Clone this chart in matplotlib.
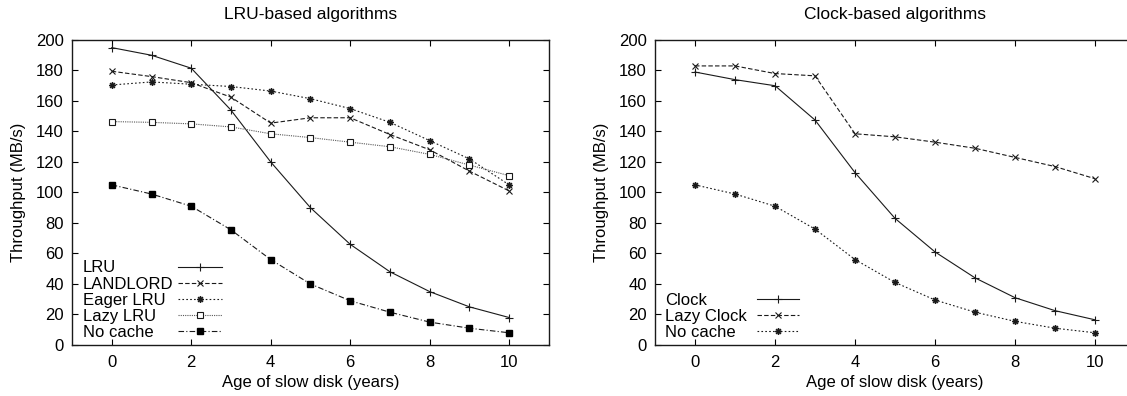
import matplotlib
matplotlib.use("Agg")
import matplotlib.pyplot as plt
from matplotlib.lines import Line2D
from matplotlib.path import Path

# disk age in years
age = [0, 1, 2, 3, 4, 5, 6, 7, 8, 9, 10]

# LRU-based algorithms (MB/s)
lru = [195, 190, 181.5, 154, 120, 90, 66, 48, 35, 25, 18]
landlord = [179.5, 176, 172, 162.5, 145.5, 149, 149, 138, 128, 114, 101]
eager_lru = [170.5, 172.5, 171, 169.5, 166.5, 161.5, 155, 146, 134, 122, 105]
lazy_lru = [146.5, 146, 145, 143, 138.5, 136, 133, 130, 125, 118, 111]
no_cache = [105, 99, 91, 75.5, 56, 40, 29, 21.5, 15, 11, 8]

# Clock-based algorithms (MB/s)
clock = [179, 174, 170, 147.5, 113, 83, 61, 44, 31, 22.5, 16.5]
lazy_clock = [183, 183, 178, 176.5, 138.5, 136.5, 133, 129, 123, 117, 109]
no_cache_clock = [105, 99, 91, 76, 56, 41, 29.5, 21.5, 15.5, 11, 8]

plt.rcParams['font.family'] = ['Liberation Sans', 'DejaVu Sans']
plt.rcParams['font.size'] = 12

# gnuplot style asterisk (+ and x together)
M, L = Path.MOVETO, Path.LINETO
star = Path([(-1, 0), (1, 0), (0, -1), (0, 1),
             (-.7, -.7), (.7, .7), (-.7, .7), (.7, -.7)],
            [M, L, M, L, M, L, M, L])

fig = plt.figure(figsize=(11.27, 3.96), dpi=100)
ax1 = fig.add_axes([0.0639, 0.1288, 0.4232, 0.7702])
ax2 = fig.add_axes([0.5812, 0.1288, 0.4260, 0.7702])

lw = 0.8
s1 = dict(color='0.1', lw=lw, ls='-', marker='+', ms=6, mew=0.8)
s2 = dict(color='0.1', lw=lw, ls=(0, (4, 2)), marker='x', ms=5, mew=0.8)
s3 = dict(color='0.1', lw=lw, ls=(0, (1.5, 2)), marker=star, ms=5, mew=1.1)
s4 = dict(color='0.35', lw=lw, ls=(0, (1, 1)), marker='s', ms=4.5,
          mfc='white', mec='0.1', mew=0.8)
s5 = dict(color='0.1', lw=lw, ls=(0, (5, 2, 1, 2)), marker='s', ms=5,
          mfc='black', mec='black')

h1 = [ax1.plot(age, lru, **s1)[0],
      ax1.plot(age, landlord, **s2)[0],
      ax1.plot(age, eager_lru, **s3)[0],
      ax1.plot(age, lazy_lru, **s4)[0],
      ax1.plot(age, no_cache, **s5)[0]]
n1 = ['LRU', 'LANDLORD', 'Eager LRU', 'Lazy LRU', 'No cache']

h2 = [ax2.plot(age, clock, **s1)[0],
      ax2.plot(age, lazy_clock, **s2)[0],
      ax2.plot(age, no_cache_clock, **s3)[0]]
n2 = ['Clock', 'Lazy Clock', 'No cache']


def legend_gnuplot(ax, handles, names, xtext, xline, hlen):
    # labels left aligned, samples to the right (gnuplot key)
    blank = [Line2D([], [], ls='none') for _ in names]
    kw = dict(loc='lower left', frameon=False, borderpad=0, borderaxespad=0,
              labelspacing=0.07, fontsize=12)
    lg1 = ax.legend(blank, names, bbox_to_anchor=(xtext, 0.016),
                    handlelength=0, handletextpad=0, **kw)
    ax.add_artist(lg1)
    ax.legend(handles, [''] * len(names), bbox_to_anchor=(xline, 0.016),
              handlelength=hlen, handletextpad=0, **kw)


for ax, title in [(ax1, 'LRU-based algorithms'), (ax2, 'Clock-based algorithms')]:
    ax.set_xlim(-1, 11)
    ax.set_ylim(0, 200)
    ax.set_xticks([0, 2, 4, 6, 8, 10])
    ax.set_yticks(range(0, 201, 20))
    ax.tick_params(direction='in', top=True, right=True, length=4.5,
                   width=0.8, labelsize=12)
    ax.tick_params(axis='x', pad=7)
    ax.tick_params(axis='y', pad=6)
    for sp in ax.spines.values():
        sp.set_linewidth(1.0)
        sp.set_color('0.1')
    ax.set_title(title, fontsize=12.5, pad=15)
    ax.set_xlabel('Age of slow disk (years)', fontsize=12, labelpad=4)
    ax.set_ylabel('Throughput (MB/s)', fontsize=12, labelpad=7)

legend_gnuplot(ax1, h1, n1, 0.023, 0.222, 2.65)
legend_gnuplot(ax2, h2, n2, 0.021, 0.213, 2.5)

fig.savefig('out.png', dpi=100)
